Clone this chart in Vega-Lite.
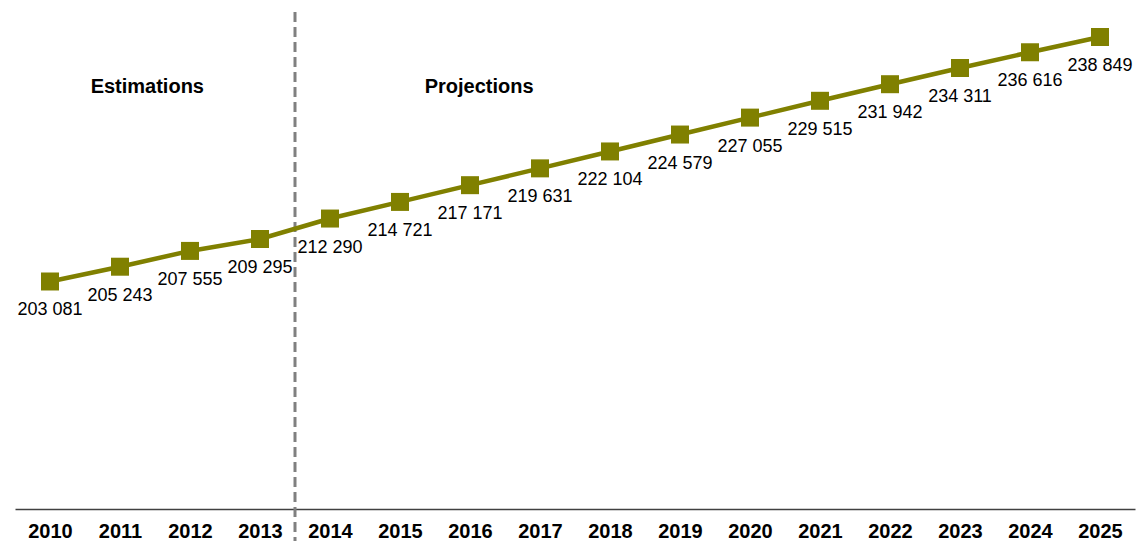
{
  "$schema": "https://vega.github.io/schema/vega-lite/v6.json",
  "width": 1120,
  "height": 509,
  "autosize": {"type": "none"},
  "padding": {"left": 15, "top": 0, "right": 9, "bottom": 32},
  "background": "white",
  "config": {
    "view": {"stroke": null},
    "locale": {"number": {"decimal": ",", "thousands": " ", "grouping": [3], "currency": ["", " €"]}}
  },
  "datasets": {
    "pop": [
      {"year": 2010, "value": 203081},
      {"year": 2011, "value": 205243},
      {"year": 2012, "value": 207555},
      {"year": 2013, "value": 209295},
      {"year": 2014, "value": 212290},
      {"year": 2015, "value": 214721},
      {"year": 2016, "value": 217171},
      {"year": 2017, "value": 219631},
      {"year": 2018, "value": 222104},
      {"year": 2019, "value": 224579},
      {"year": 2020, "value": 227055},
      {"year": 2021, "value": 229515},
      {"year": 2022, "value": 231942},
      {"year": 2023, "value": 234311},
      {"year": 2024, "value": 236616},
      {"year": 2025, "value": 238849}
    ],
    "split": [{"x": 2013.5, "y1": 242500, "y2": 165100}],
    "notes": [
      {"x": 2011.39, "y": 231460, "label": "Estimations"},
      {"x": 2016.13, "y": 231460, "label": "Projections"}
    ]
  },
  "layer": [
    {
      "data": {"name": "split"},
      "mark": {"type": "rule", "color": "#808080", "strokeWidth": 3, "strokeDash": [10, 5], "clip": false},
      "encoding": {
        "x": {"field": "x", "type": "quantitative", "scale": {"domain": [2009.5, 2025.5], "nice": false, "zero": false}},
        "y": {"field": "y1", "type": "quantitative", "scale": {"domain": [169800, 244260], "nice": false, "zero": false}, "axis": null},
        "y2": {"field": "y2"}
      }
    },
    {
      "data": {"name": "pop"},
      "mark": {"type": "line", "color": "#808000", "strokeWidth": 4.5},
      "encoding": {
        "x": {
          "field": "year", "type": "quantitative",
          "scale": {"domain": [2009.5, 2025.5], "nice": false, "zero": false},
          "axis": {
            "values": [2010, 2011, 2012, 2013, 2014, 2015, 2016, 2017, 2018, 2019, 2020, 2021, 2022, 2023, 2024, 2025],
            "format": "d", "title": null, "ticks": false, "grid": false,
            "domainColor": "#404040", "domainWidth": 1.5,
            "labelFont": "Liberation Sans", "labelFontWeight": "bold", "labelFontSize": 20,
            "labelColor": "#000000", "labelPadding": 12, "labelFlush": false, "labelOverlap": false
          }
        },
        "y": {"field": "value", "type": "quantitative", "scale": {"domain": [169800, 244260], "nice": false, "zero": false}, "axis": null}
      }
    },
    {
      "data": {"name": "pop"},
      "mark": {"type": "point", "shape": "square", "size": 324, "filled": true, "opacity": 1, "color": "#808000"},
      "encoding": {
        "x": {"field": "year", "type": "quantitative", "scale": {"domain": [2009.5, 2025.5], "nice": false, "zero": false}},
        "y": {"field": "value", "type": "quantitative", "scale": {"domain": [169800, 244260], "nice": false, "zero": false}}
      }
    },
    {
      "data": {"name": "pop"},
      "mark": {"type": "text", "font": "Liberation Sans", "fontSize": 18, "dy": 29, "baseline": "middle", "align": "center", "color": "#000000"},
      "encoding": {
        "x": {"field": "year", "type": "quantitative", "scale": {"domain": [2009.5, 2025.5], "nice": false, "zero": false}},
        "y": {"field": "value", "type": "quantitative", "scale": {"domain": [169800, 244260], "nice": false, "zero": false}},
        "text": {"field": "value", "type": "quantitative", "format": ",d"}
      }
    },
    {
      "data": {"name": "notes"},
      "mark": {"type": "text", "font": "Liberation Sans", "fontSize": 20, "fontWeight": "bold", "baseline": "middle", "align": "center", "color": "#000000"},
      "encoding": {
        "x": {"field": "x", "type": "quantitative", "scale": {"domain": [2009.5, 2025.5], "nice": false, "zero": false}},
        "y": {"field": "y", "type": "quantitative", "scale": {"domain": [169800, 244260], "nice": false, "zero": false}},
        "text": {"field": "label"}
      }
    }
  ]
}
